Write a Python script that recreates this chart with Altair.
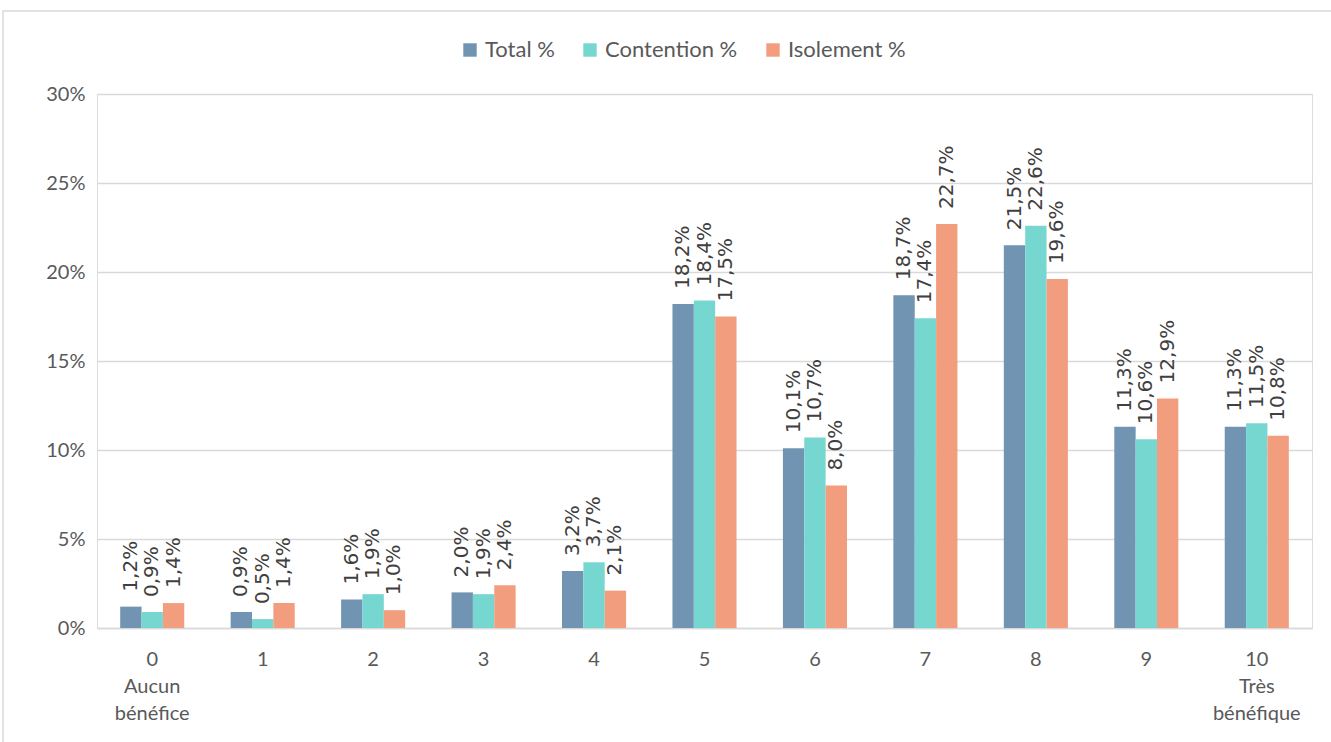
import altair as alt
import pandas as pd

categories = ["0", "1", "2", "3", "4", "5", "6", "7", "8", "9", "10"]
series = ["Total %", "Contention %", "Isolement %"]
total = [1.2, 0.9, 1.6, 2.0, 3.2, 18.2, 10.1, 18.7, 21.5, 11.3, 11.3]
contention = [0.9, 0.5, 1.9, 1.9, 3.7, 18.4, 10.7, 17.4, 22.6, 10.6, 11.5]
isolement = [1.4, 1.4, 1.0, 2.4, 2.1, 17.5, 8.0, 22.7, 19.6, 12.9, 10.8]
colors = ["#7094B1", "#76D7D0", "#F29D7E"]
extra_labels = {"0": ["Aucun", "bénéfice"], "10": ["Très", "bénéfique"]}
y_ticks = [0, 0.05, 0.10, 0.15, 0.20, 0.25, 0.30]

rows = []
for name, vals in zip(series, [total, contention, isolement]):
    for c, v in zip(categories, vals):
        rows.append({"cat": c, "serie": name, "value": v / 100.0})
df = pd.DataFrame(rows)

# label expression for multi-line x labels
expr = "datum.value"
for k, lines in extra_labels.items():
    arr = "[" + ",".join("'" + s + "'" for s in [k] + lines) + "]"
    expr = f"datum.value == '{k}' ? {arr} : ({expr})"

font_axis = "Lato"
W, H = 1215, 534
PL, PT = 97, 94

x_enc = alt.X("cat:N", sort=categories,
              scale=alt.Scale(paddingInner=0.42, paddingOuter=0.21),
              axis=alt.Axis(title=None, labelAngle=0, labelExpr=expr,
                            labelFontSize=20, labelColor="#595959", labelFont=font_axis,
                            labelPadding=31, labelLineHeight=27, labelBaseline="middle",
                            ticks=False, domainColor="#d9d9d9", domainWidth=1.5,
                            grid=False))
xoff = alt.XOffset("serie:N", sort=series)
y_enc = alt.Y("value:Q", scale=alt.Scale(domain=[0, 0.30], nice=False),
              axis=alt.Axis(title=None, format=".0%", values=y_ticks,
                            labelFontSize=20, labelColor="#595959", labelFont=font_axis,
                            labelPadding=12, ticks=False, domain=False,
                            gridColor="#d9d9d9", gridWidth=1.5))
color_enc = alt.Color("serie:N", sort=series,
                      scale=alt.Scale(domain=series, range=colors),
                      legend=alt.Legend(title=None, orient="none", direction="horizontal",
                                        legendX=362, legendY=-55,
                                        symbolType="square", symbolSize=180,
                                        symbolStrokeWidth=0,
                                        labelFontSize=22, labelColor="#595959",
                                        labelFont=font_axis, columnPadding=24,
                                        labelOffset=4))

bars = alt.Chart(df).mark_bar().encode(x=x_enc, xOffset=xoff, y=y_enc, color=color_enc)

labels = alt.Chart(df).transform_calculate(
    lbl="replace(format(datum.value * 100, '.1f'), '.', ',') + '%'"
).mark_text(angle=270, align="left", baseline="middle", dx=15, dy=0,
            fontSize=20, font="DejaVu Sans", color="#404040").encode(
    x=alt.X("cat:N", sort=categories), xOffset=xoff, y="value:Q", text="lbl:N")

frame = alt.Chart(alt.Data(values=[{"a": 1}])).mark_rect(
    fillOpacity=0, stroke="#d9d9d9", strokeWidth=1.5).encode(
    x=alt.value(-PL + 3), x2=alt.value(W + 40),
    y=alt.value(-PT + 11), y2=alt.value(H + 200))

chart = alt.layer(frame, bars, labels).properties(
    width=W, height=H,
    autosize=alt.AutoSizeParams(type="none"),
    padding={"left": PL, "top": PT, "right": 1331 - PL - W, "bottom": 742 - PT - H},
).configure_view(stroke=None).configure(background="white")

chart.save("out.html", embed_options={"renderer": "svg", "actions": False})
